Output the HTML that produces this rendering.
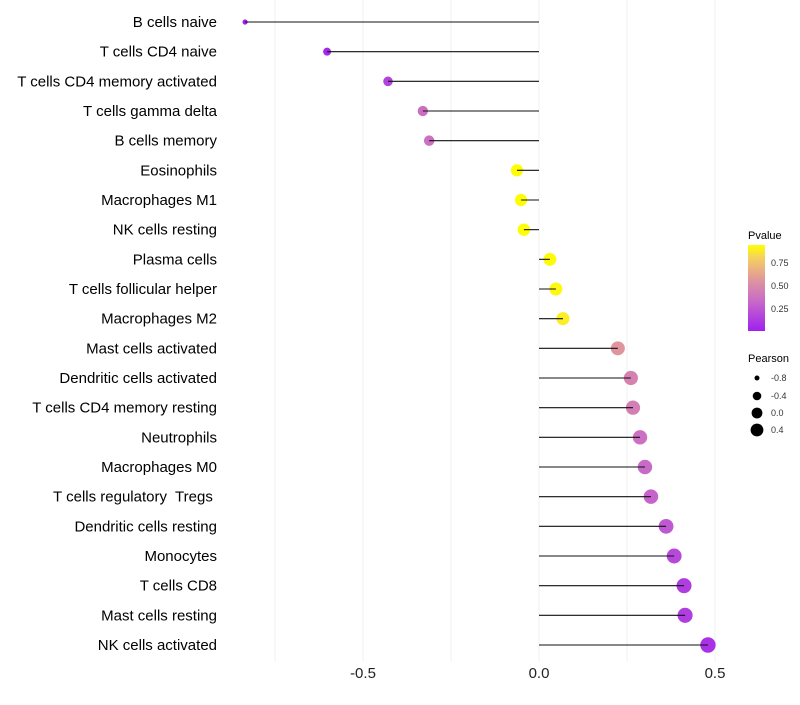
<!DOCTYPE html>
<html><head><meta charset="utf-8"><style>
body{margin:0;background:#fff;font-family:"Liberation Sans",sans-serif}
svg text{font-family:"Liberation Sans",sans-serif;white-space:pre}
</style></head><body>
<svg id="chart" width="800" height="700">
<defs><linearGradient id="pg" x1="0" y1="1" x2="0" y2="0">
<stop offset="0" stop-color="#A020F0"/><stop offset="0.35" stop-color="#C86AC8"/><stop offset="0.6" stop-color="#E0979C"/><stop offset="0.85" stop-color="#F5D060"/><stop offset="1" stop-color="#FFFF00"/>
</linearGradient></defs>
<g id="grid"></g><g id="dots"></g><g id="marks"></g><g id="ylabels"></g><g id="xlabels"></g>
<g>
<text x="748" y="239" font-size="11" fill="#000">Pvalue</text>
<rect x="748" y="245" width="17" height="86" fill="url(#pg)"/>
<text x="771" y="266" font-size="9" fill="#333">0.75</text>
<text x="771" y="289" font-size="9" fill="#333">0.50</text>
<text x="771" y="312" font-size="9" fill="#333">0.25</text>
</g>
<g>
<text x="748" y="362" font-size="11" fill="#000">Pearson</text>
<circle cx="757" cy="378" r="2.5" fill="#000"/><text x="771" y="381" font-size="9" fill="#333">-0.8</text>
<circle cx="757" cy="396" r="4.3" fill="#000"/><text x="771" y="399" font-size="9" fill="#333">-0.4</text>
<circle cx="757" cy="413" r="5.4" fill="#000"/><text x="771" y="416" font-size="9" fill="#333">0.0</text>
<circle cx="757" cy="430" r="6.4" fill="#000"/><text x="771" y="433" font-size="9" fill="#333">0.4</text>
</g>
</svg>
<script>
const categories=["B cells naive","T cells CD4 naive","T cells CD4 memory activated","T cells gamma delta","B cells memory","Eosinophils","Macrophages M1","NK cells resting","Plasma cells","T cells follicular helper","Macrophages M2","Mast cells activated","Dendritic cells activated","T cells CD4 memory resting","Neutrophils","Macrophages M0","T cells regulatory  Tregs ","Dendritic cells resting","Monocytes","T cells CD8","Mast cells resting","NK cells activated"];
const pearson=[-0.835,-0.602,-0.429,-0.33,-0.312,-0.0625,-0.051,-0.043,0.031,0.048,0.068,0.224,0.261,0.267,0.287,0.301,0.318,0.361,0.384,0.412,0.415,0.48];
const pvalues=[0.0,0.03,0.15,0.35,0.36,0.93,0.93,0.93,0.92,0.91,0.88,0.55,0.45,0.43,0.36,0.33,0.3,0.25,0.18,0.13,0.13,0.08];
const xTicks=[-0.5,0,0.5];
const xTickLabels=["-0.5","0.0","0.5"];
const minorGrid=[-0.75,-0.25,0.25];
const NS="http://www.w3.org/2000/svg";
function xs(v){return 539+v*352;}
function ys(i){return 22+i*(623/21);}
function rs(v){return Math.sqrt(Math.max(3,40+40*v));}
const stops=[[0,[160,32,240]],[0.35,[200,106,200]],[0.6,[224,151,156]],[0.85,[245,208,96]],[1,[255,255,0]]];
function col(p){let t=Math.min(1,Math.max(0,p/0.935));for(let k=1;k<stops.length;k++){if(t<=stops[k][0]){const a=stops[k-1],b=stops[k];const f=(t-a[0])/(b[0]-a[0]);const c=a[1].map((x,j)=>Math.round(x+(b[1][j]-x)*f));return `rgb(${c})`;}}return "rgb(255,255,0)";}
function mk(tag,attrs,parent){const e=document.createElementNS(NS,tag);for(const k in attrs)e.setAttribute(k,attrs[k]);document.getElementById(parent).appendChild(e);return e;}
xTicks.concat(minorGrid).forEach(v=>{
 const l=mk("line",{x1:xs(v),x2:xs(v),y1:0,y2:662,stroke:"#f0f0f0","stroke-width":1},"grid");
 
 
});
xTicks.forEach((v,i)=>{
 const t=mk("text",{x:xs(v),y:678,"font-size":15,"text-anchor":"middle",fill:"#222"},"xlabels");
 t.textContent=xTickLabels[i];
 
 
});
categories.forEach((c,i)=>{
 const y=ys(i);
 const t=mk("text",{x:217,y:y+5,"font-size":15,"text-anchor":"end",fill:"#000"},"ylabels");
 t.textContent=c;
 
 
 const l=mk("line",{x1:xs(0),x2:xs(pearson[i]),y1:y,y2:y,stroke:"#111","stroke-width":1.1},"marks");
 
 
 const d=mk("circle",{cx:xs(pearson[i]),cy:y,r:rs(pearson[i]),fill:col(pvalues[i])},"dots");
 
 
});
</script>
</body></html>
